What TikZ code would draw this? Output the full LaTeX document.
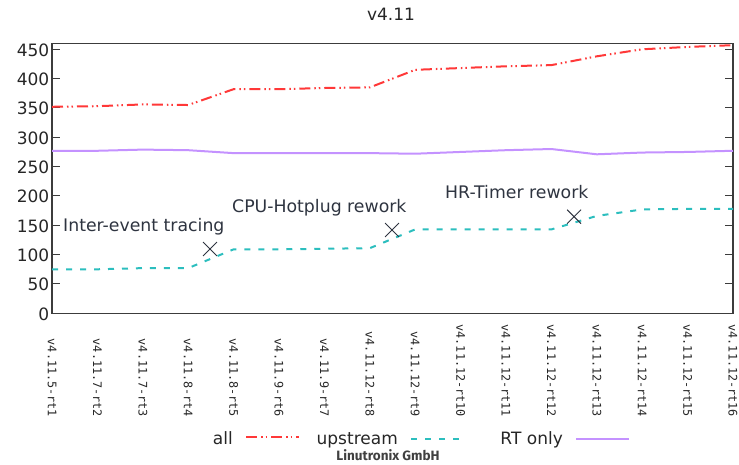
\documentclass[tikz,border=0pt]{standalone}
\usepackage{fontspec}
\usetikzlibrary{shapes.misc}
\setmainfont{DejaVu Sans}
\newfontfamily\monofont{DejaVu Sans Mono}
\newfontfamily\brandfont{Fira Sans}
\definecolor{allred}{RGB}{255,56,56}
\definecolor{upcyan}{RGB}{44,190,190}
\definecolor{rtviolet}{RGB}{196,146,255}
\definecolor{notegray}{RGB}{46,52,64}
\definecolor{framegray}{RGB}{60,60,60}
\begin{document}
\begin{tikzpicture}[x=1pt, y=1pt,
  allline/.style={allred, line width=2pt, dash pattern=on 11pt off 4pt on 1.5pt off 3pt on 1.5pt off 4pt},
  upline/.style={upcyan, line width=2pt, dash pattern=on 6pt off 8pt},
  rtline/.style={rtviolet, line width=2pt},
  numlabel/.style={font=\fontsize{17}{17}\selectfont, text=black!85, inner sep=0pt},
  verlabel/.style={font=\monofont\fontsize{11.8}{11.8}\selectfont, rotate=-90, anchor=east, inner sep=0pt, text=black!85},
  note/.style={font=\fontsize{17.3}{17.3}\selectfont, text=notegray, inner sep=0pt, anchor=base west},
  crossmark/.style={draw=notegray, cross out, minimum size=13pt, inner sep=0pt, line width=0.9pt}]
\useasboundingbox (0,0) rectangle (739,464);
\node[numlabel, anchor=base] (title) at (391,443) {v4.11};
\begin{scope}[shift={(52,150.7)}, x=45.4pt, y=0.5867pt]
  \draw[framegray, line width=1.2pt] (0,0) rectangle (15,460);
  \foreach \v in {0,50,...,450} {
    \draw[framegray, line width=1pt] (0,\v) -- ++(8pt,0);
    \draw[framegray, line width=1pt] (15,\v) -- ++(-8pt,0);
    \node[numlabel, anchor=base east, xshift=-2.5pt, yshift=-7pt] (y\v) at (0,\v) {\v};
  }
  \foreach \i/\lab in {0/v4.11.5-rt1, 1/v4.11.7-rt2, 2/v4.11.7-rt3, 3/v4.11.8-rt4,
      4/v4.11.8-rt5, 5/v4.11.9-rt6, 6/v4.11.9-rt7, 7/v4.11.12-rt8, 8/v4.11.12-rt9,
      9/v4.11.12-rt10, 10/v4.11.12-rt11, 11/v4.11.12-rt12, 12/v4.11.12-rt13,
      13/v4.11.12-rt14, 14/v4.11.12-rt15, 15/v4.11.12-rt16}
    \node[verlabel] (x\i) at (\i,-177) {\lab};
  % measured series
  \draw[rtline] plot coordinates {(0,277) (1,277) (2,279) (3,278) (4,273) (5,273) (6,273)
    (7,273) (8,272) (9,275) (10,278) (11,280) (12,271) (13,274) (14,275) (15,277)};
  \draw[allline] plot coordinates {(0,352) (1,353) (2,356) (3,355) (4,382) (5,382) (6,384)
    (7,385) (8,415) (9,418) (10,421) (11,423) (12,438) (13,450) (14,454) (15,457)};
  \draw[upline] plot coordinates {(0,75) (1,75) (2,77) (3,77) (4,109) (5,109) (6,110)
    (7,111) (8,143) (9,143) (10,143) (11,143) (12,166) (13,177) (14,178) (15,178)};
  \node[crossmark] (xtrace) at (3.48,109.6) {};
  \node[crossmark] (xhotplug) at (7.49,142) {};
  \node[crossmark] (xtimer) at (11.5,164.6) {};
\end{scope}
\node[note] (trace) at (63,232.3) {Inter-event tracing};
\node[note] (hotplug) at (232,251.7) {CPU-Hotplug rework};
\node[note] (timer) at (445,265) {HR-Timer rework};
% key
\node[numlabel, anchor=base east] (keyall) at (233,19.7) {all};
\draw[allline] ([xshift=13pt,yshift=1pt]keyall.east) -- ++(53,0);
\node[numlabel, anchor=base east] (keyup) at (398,19.7) {upstream};
\draw[upline] ([xshift=13pt,yshift=1pt]keyup.east) -- ++(53,0);
\node[numlabel, anchor=base east] (keyrt) at (563,19.7) {RT only};
\draw[rtline] ([xshift=13pt,yshift=1pt]keyrt.east) -- ++(53,0);
\node[font=\brandfont\bfseries\fontsize{13.5}{13.5}\selectfont, text=black!75, anchor=base] (brand) at (388,3.3) {Linutronix GmbH};
\end{tikzpicture}
\end{document}
